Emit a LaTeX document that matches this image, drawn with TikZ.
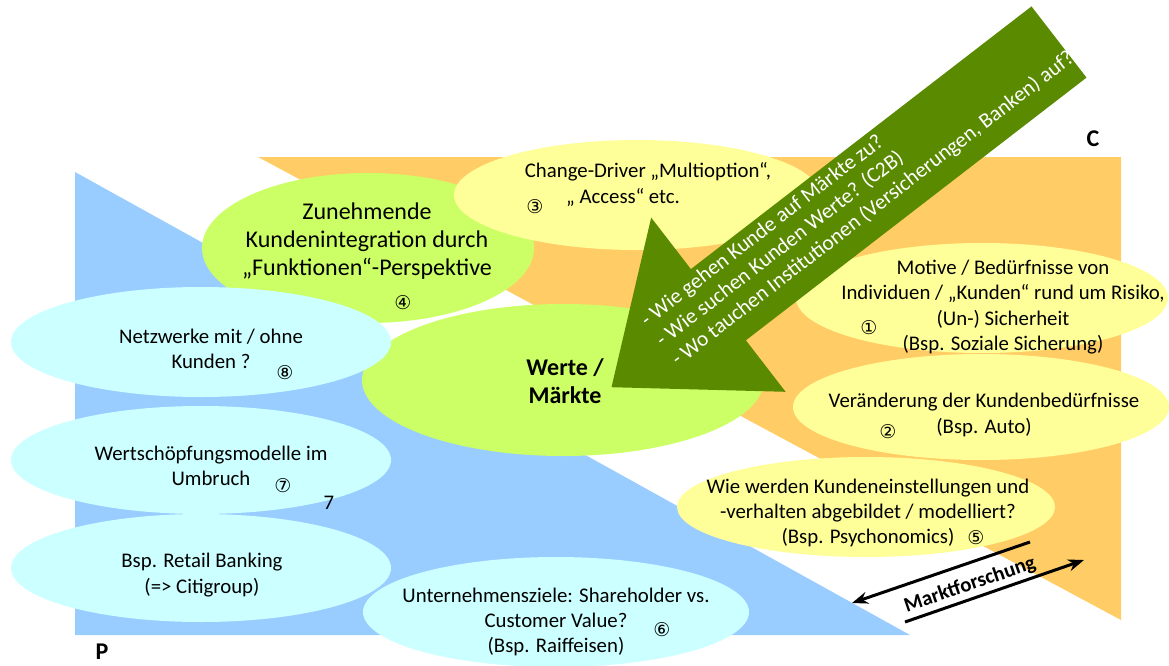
\documentclass[tikz,border=0pt]{standalone}
\usepackage{fontspec}
\setmainfont{Carlito}
\newfontfamily\dejavu{DejaVu Sans}
\usetikzlibrary{shapes.geometric,arrows.meta}
\definecolor{orangeC}{HTML}{FFCC66}
\definecolor{blueP}{HTML}{99CCFF}
\definecolor{cyanE}{HTML}{CCFFFF}
\definecolor{yellowE}{HTML}{FFFF99}
\definecolor{greenE}{HTML}{CCFF66}
\definecolor{arrowG}{HTML}{5A8A00}
\begin{document}
\begin{tikzpicture}[x=0.5pt,y=-0.5pt,
  ell/.style={ellipse,inner sep=0pt,draw=none},
  txt/.style={inner sep=0pt,align=center,font=\fontsize{10.4}{12.6}\selectfont},
  num/.style={inner sep=0pt,font=\dejavu\fontsize{9.5}{10}\selectfont},
  mk/.style={line width=1.5pt,-{Stealth[length=8pt,width=6pt]}},
  lbl/.style={inner sep=0pt,font=\bfseries\fontsize{12}{14}\selectfont}
]
\useasboundingbox (0,0) rectangle (1169,665);
% background areas
\fill[orangeC] (258,157) -- (1121,157) -- (1121,620) -- cycle;
\fill[blueP] (75,172) -- (75,635) -- (910,635) -- cycle;
\node[lbl] (C) at (1093,139) {C};
\node[lbl] (P) at (102,652) {P};
% ellipses
\node[ell,fill=greenE,minimum width=166pt,minimum height=75pt] (zun) at (368,248) {};
\node[ell,fill=yellowE,minimum width=183pt,minimum height=55pt] (chg) at (637,195) {};
\node[ell,fill=greenE,minimum width=201pt,minimum height=76pt] (wer) at (563,380) {};
\node[ell,fill=cyanE,minimum width=190pt,minimum height=55pt] (net) at (201,342) {};
\node[ell,fill=cyanE,minimum width=190pt,minimum height=54pt] (wsm) at (201,460) {};
\node[ell,fill=cyanE,minimum width=190pt,minimum height=54pt] (ret) at (201,568) {};
\node[ell,fill=cyanE,minimum width=193pt,minimum height=55pt] (unt) at (556,612) {};
\node[ell,fill=yellowE,minimum width=186pt,minimum height=55pt] (mot) at (982,298) {};
\node[ell,fill=yellowE,minimum width=188pt,minimum height=53pt] (ver) at (981,407) {};
\node[ell,fill=yellowE,minimum width=189pt,minimum height=50pt] (wie) at (866,507) {};
% texts
\node[txt] (chgA) at (648,172) {Change-Driver „Multioption“,};
\node[txt] (chgB) at (623,198) {„ Access“ etc.};
\node[num] (n3) at (535,207) {③};
\node[txt,font=\fontsize{12}{14.2}\selectfont] (zunT) at (367,241) {Zunehmende\\Kundenintegration durch\\„Funktionen“-Perspektive};
\node[num] (n4) at (403,303) {④};
\node[txt,font=\bfseries\fontsize{12}{14}\selectfont] (werT) at (565,381) {Werte /\\Märkte};
\node[txt] (netT) at (211,349) {Netzwerke mit / ohne\\Kunden ?};
\node[num] (n8) at (285,373) {⑧};
\node[txt] (wsmT) at (211,466) {Wertschöpfungsmodelle im\\Umbruch};
\node[num] (n7) at (283,486) {⑦};
\node[txt] (seven) at (329,503) {7};
\node[txt] (retT) at (202,575) {Bsp. Retail Banking\\(=> Citigroup)};
\node[txt] (untT) at (556,622) {Unternehmensziele: Shareholder vs.\\Customer Value?\\(Bsp. Raiffeisen)};
\node[num] (n6) at (662,630) {⑥};
\node[txt,font=\fontsize{10.4}{12.8}\selectfont] (motT) at (1003,307) {Motive / Bedürfnisse von\\Individuen / „Kunden“ rund um Risiko,\\(Un-) Sicherheit\\(Bsp. Soziale Sicherung)};
\node[num] (n1) at (869,328) {①};
\node[txt] (verT) at (984,415) {Veränderung der Kundenbedürfnisse\\(Bsp. Auto)};
\node[num] (n2) at (888,432) {②};
\node[txt] (wieT) at (868,513) {Wie werden Kundeneinstellungen und\\-verhalten abgebildet / modelliert?\\(Bsp. Psychonomics)};
\node[num] (n5) at (976,538) {⑤};
% big arrow
\fill[arrowG] (1031.5,6.4) -- (690.9,269.1) -- (651.2,217.6) -- (611.5,387.2)
  -- (785.6,391.8) -- (745.9,340.3) -- (1086.5,77.6) -- cycle;
\node[rotate=37.66,anchor=west,text=white,align=left,inner sep=0pt,
  font=\fontsize{10.7}{12.5}\selectfont] (q) at (659,343)
  {- Wie gehen Kunde auf Märkte zu?\\- Wie suchen Kunden Werte? (C2B)\\- Wo tauchen Institutionen (Versicherungen, Banken) auf?};
% Marktforschung
\coordinate (m1s) at (1030,542);
\coordinate (m1e) at (852,603);
\coordinate (m2s) at (905,622);
\coordinate (m2e) at (1084,560);
\draw[mk] (m1s) -- (m1e);
\draw[mk] (m2s) -- (m2e);
\node[rotate=19,inner sep=0pt,font=\bfseries\fontsize{10.4}{12}\selectfont] (mf) at (970,585) {Marktforschung};
\end{tikzpicture}
\end{document}
